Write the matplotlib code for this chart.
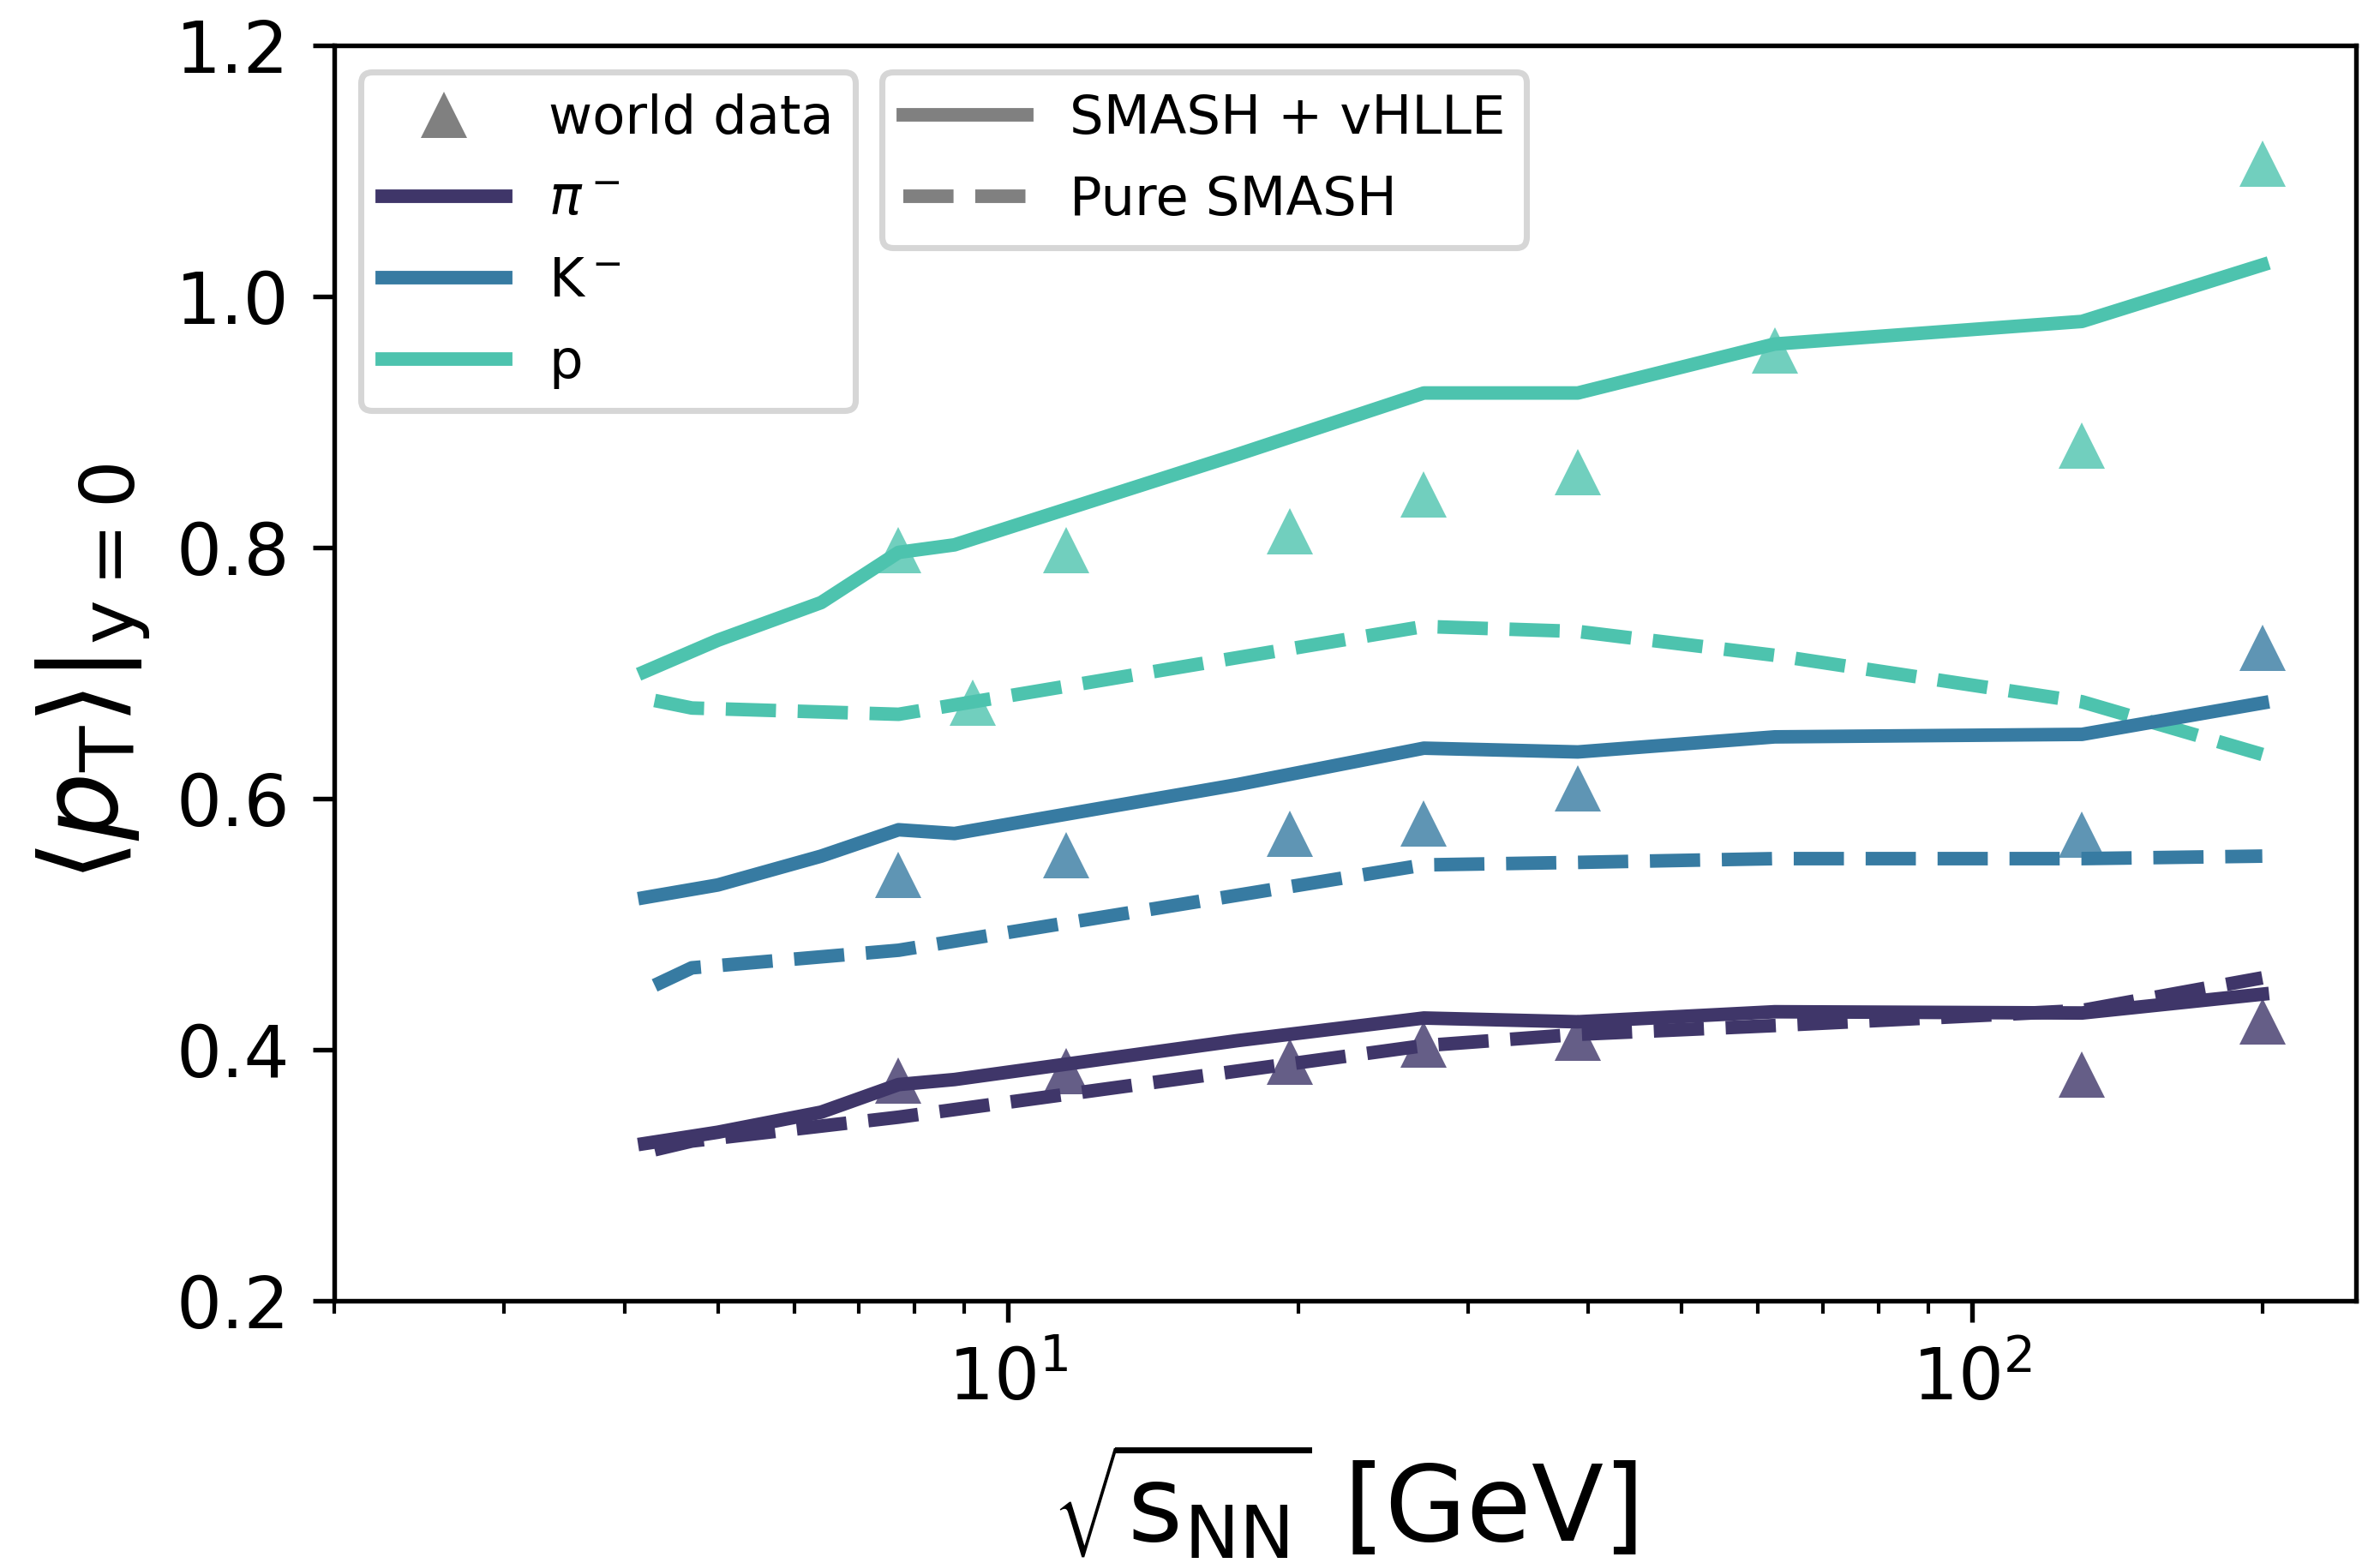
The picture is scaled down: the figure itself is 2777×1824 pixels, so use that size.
import matplotlib
matplotlib.use("Agg")
import matplotlib.pyplot as plt
from matplotlib.lines import Line2D

# ---------------- data ----------------
species = [r"$\pi^-$", r"K$^-$", "p"]
colors = ["#3f3669", "#377ba2", "#4dc3ae"]

# SMASH + vHLLE (hybrid)
hyb_energy = [4.2, 5.0, 6.4, 7.7, 8.8, 17.3, 27.0, 39.0, 62.4, 130.0, 200.0]
hyb_pion   = [0.325, 0.334, 0.350, 0.372, 0.376, 0.407, 0.425, 0.422, 0.430, 0.429, 0.444]
hyb_kaon   = [0.521, 0.531, 0.554, 0.575, 0.572, 0.611, 0.640, 0.637, 0.649, 0.651, 0.676]
hyb_proton = [0.701, 0.726, 0.756, 0.796, 0.802, 0.874, 0.923, 0.923, 0.962, 0.980, 1.025]

# Pure SMASH
pure_energy = [4.3, 4.7, 7.7, 27.0, 39.0, 62.4, 130.0, 200.0]
pure_pion   = [0.320, 0.327, 0.346, 0.403, 0.412, 0.419, 0.431, 0.457]
pure_kaon   = [0.451, 0.465, 0.479, 0.547, 0.549, 0.552, 0.552, 0.554]
pure_proton = [0.678, 0.672, 0.667, 0.737, 0.733, 0.714, 0.677, 0.635]

# world data
wd_pion_energy = [7.7, 11.5, 19.6, 27.0, 39.0, 130.0, 200.0]
wd_pion        = [0.375, 0.383, 0.390, 0.404, 0.409, 0.380, 0.422]
wd_kaon_energy = [7.7, 11.5, 19.6, 27.0, 39.0, 130.0, 200.0]
wd_kaon        = [0.539, 0.555, 0.572, 0.580, 0.608, 0.571, 0.720]
wd_proton_energy = [7.7, 9.2, 11.5, 19.6, 27.0, 39.0, 62.4, 130.0, 200.0]
wd_proton        = [0.798, 0.676, 0.798, 0.813, 0.842, 0.860, 0.957, 0.881, 1.106]

hyb = [hyb_pion, hyb_kaon, hyb_proton]
pure = [pure_pion, pure_kaon, pure_proton]
wd_e = [wd_pion_energy, wd_kaon_energy, wd_proton_energy]
wd = [wd_pion, wd_kaon, wd_proton]

# ---------------- figure ----------------
plt.rcParams["font.family"] = ["DejaVu Sans"]
fig = plt.figure(figsize=(2777 / 300, 1824 / 300), dpi=300)
ax = fig.add_axes([0.1404, 0.168, 0.8494, 0.803])

LW = 3.8
MS = 13

for e, v, c in zip(wd_e, wd, colors):
    ax.plot(e, v, linestyle="none", marker="^", markersize=MS, color=c,
            alpha=0.8, markeredgewidth=0, zorder=2)

for v, c in zip(pure, colors):
    ax.plot(pure_energy, v, color=c, lw=LW, linestyle="--", zorder=3)
for v, c in zip(hyb, colors):
    ax.plot(hyb_energy, v, color=c, lw=LW, linestyle="-", zorder=4)

ax.set_xscale("log")
ax.set_xlim(2, 250)
ax.set_ylim(0.2, 1.2)
ax.set_yticks([0.2, 0.4, 0.6, 0.8, 1.0, 1.2])

for s in ax.spines.values():
    s.set_linewidth(1.3)
ax.tick_params(which="major", length=6, width=1.3, labelsize=20, pad=6.5)
ax.tick_params(which="minor", length=3.5, width=1.0)

ax.set_xlabel(r"$\sqrt{\mathrm{s}_{\mathrm{NN}}}$ [GeV]", fontsize=29.5, labelpad=8)
ax.set_ylabel(r"$\langle p_{\mathrm{T}}\rangle|_{\mathrm{y=0}}$", fontsize=30, labelpad=6.5)

# legends
h1 = [Line2D([], [], linestyle="none", marker="^", markersize=MS, color="gray",
             markeredgewidth=0)]
h1 += [Line2D([], [], color=c, lw=LW) for c in colors]
l1 = ["world data"] + species
leg1 = ax.legend(h1, l1, loc="upper left", fontsize=15, handlelength=2.3,
                 labelspacing=0.56, edgecolor="#d6d6d6", framealpha=1)
leg1.get_frame().set_linewidth(1.7)
ax.add_artist(leg1)

h2 = [Line2D([], [], color="gray", lw=LW, linestyle="-"),
      Line2D([], [], color="gray", lw=LW, linestyle="--")]
l2 = ["SMASH + vHLLE", "Pure SMASH"]
leg2 = ax.legend(h2, l2, loc="upper left", bbox_to_anchor=(0.271, 0.979),
                 borderaxespad=0, fontsize=15, handlelength=2.3,
                 labelspacing=0.56, edgecolor="#d6d6d6", framealpha=1)
leg2.get_frame().set_linewidth(1.7)

fig.savefig("out.png", dpi=300)
